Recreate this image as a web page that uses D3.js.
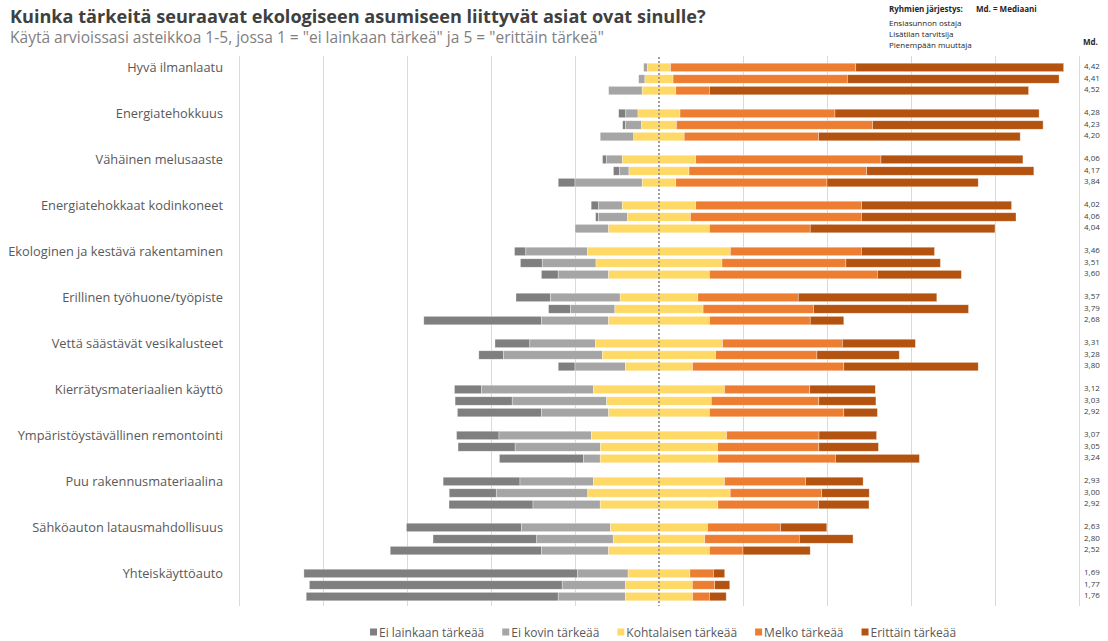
<!DOCTYPE html>
<html>
<head>
<meta charset="utf-8">
<script src="https://cdn.jsdelivr.net/npm/d3@7"></script>
<style>
  body { margin: 0; background: #fff; }
  svg { display: block; font-family: "Open Sans", "Noto Sans", sans-serif; }
</style>
</head>
<body>
<svg id="chart" width="1108" height="641"></svg>
<script>
// Survey items (top to bottom)
const categories = [
  "Hyvä ilmanlaatu",
  "Energiatehokkuus",
  "Vähäinen melusaaste",
  "Energiatehokkaat kodinkoneet",
  "Ekologinen ja kestävä rakentaminen",
  "Erillinen työhuone/työpiste",
  "Vettä säästävät vesikalusteet",
  "Kierrätysmateriaalien käyttö",
  "Ympäristöystävällinen remontointi",
  "Puu rakennusmateriaalina",
  "Sähköauton latausmahdollisuus",
  "Yhteiskäyttöauto"
];

// Respondent groups, drawn in this order inside each item
const groups = ["Ensiasunnon ostaja", "Lisätilan tarvitsija", "Pienempään muuttaja"];

// Answer scale 1–5
const levels = ["Ei lainkaan tärkeää", "Ei kovin tärkeää", "Kohtalaisen tärkeää", "Melko tärkeää", "Erittäin tärkeää"];

// Share of answers (%) per item, one triplet per item = [ostaja, tarvitsija, muuttaja]
const eiLainkaan = [
  [0, 0, 0], [1.7, 0.7, 0], [1.0, 1.4, 4], [1.8, 0.7, 0], [2.7, 5.2, 4], [8.2, 5.2, 28],
  [8.3, 5.9, 4], [6.4, 13.6, 20], [10.1, 13.6, 20], [18.3, 11.2, 20], [27.4, 24.7, 36], [65.2, 60.2, 60]
];
const eiKovin = [
  [0.9, 1.5, 8], [2.9, 3.8, 8], [3.7, 2.3, 16], [5.6, 6.9, 8], [14.7, 12.8, 12], [16.6, 10.6, 16],
  [15.6, 23.5, 12], [26.7, 22.5, 16], [22.0, 20.3, 4], [17.5, 21.8, 16], [21.2, 18.2, 16], [12.0, 15.1, 16]
];
const kohtalaisen = [
  [5.5, 6.7, 8], [10.0, 8.3, 12], [17.5, 14.3, 8], [17.5, 15.0, 24], [34.0, 30.0, 24], [18.5, 21.0, 24],
  [30.3, 27.0, 16], [31.2, 24.9, 24], [32.2, 27.9, 28], [31.2, 33.9, 28], [23.1, 21.8, 24], [14.7, 15.9, 16]
];
const melko = [
  [44.1, 41.5, 8], [36.9, 46.7, 32], [44.1, 42.3, 36], [39.5, 40.7, 24], [31.2, 29.5, 40], [23.9, 26.3, 24],
  [28.5, 24.1, 36], [20.3, 25.6, 32], [22.0, 24.1, 28], [19.3, 21.8, 24], [17.4, 22.5, 8], [5.6, 5.3, 4]
];
const erittain = [
  [49.5, 50.4, 76], [48.6, 40.6, 48], [33.8, 39.8, 36], [35.7, 36.8, 44], [17.4, 22.5, 20], [33.0, 36.9, 8],
  [17.4, 19.6, 32], [15.6, 13.6, 8], [13.7, 14.2, 20], [13.7, 11.3, 12], [11.0, 12.8, 16], [2.7, 3.6, 4]
];

// Values printed in the "Md." column
const mdValues = [
  ["4,42", "4,41", "4,52"], ["4,28", "4,23", "4,20"], ["4,06", "4,17", "3,84"], ["4,02", "4,06", "4,04"],
  ["3,46", "3,51", "3,60"], ["3,57", "3,79", "2,68"], ["3,31", "3,28", "3,80"], ["3,12", "3,03", "2,92"],
  ["3,07", "3,05", "3,24"], ["2,93", "3,00", "2,92"], ["2,63", "2,80", "2,52"], ["1,69", "1,77", "1,76"]
];

const gridTicks = [-100, -80, -60, -40, -20, 20, 40, 60, 80, 100];

const series = [eiLainkaan, eiKovin, kohtalaisen, melko, erittain];
const colors = ["#7f7f7f", "#a5a5a5", "#ffd966", "#ed7d31", "#b4530f"];

const svg = d3.select("#chart");

const x = d3.scaleLinear().domain([-100, 100]).range([239, 1079]);
const yCat = d3.scaleBand().domain(categories).range([56, 608]);
const yGrp = d3.scaleBand().domain(groups).range([7.2, 38.8]).paddingInner(0.27);

function fitWidth(sel, target) {
  const w = sel.node().getComputedTextLength();
  const fs = parseFloat(sel.attr("font-size"));
  sel.attr("font-size", (fs * target / w).toFixed(2));
}

// Vertical gridlines
const grid = svg.append("g")
  .attr("transform", "translate(0,56)")
  .call(d3.axisTop(x).tickValues(gridTicks).tickSize(-550).tickFormat(""));
grid.select(".domain").remove();
grid.selectAll(".tick line").attr("stroke", "#d9d9d9").attr("stroke-width", 1);

// Diverging stacks: neutral answers are split around zero
const segments = [];
categories.forEach((c, ci) => {
  groups.forEach((g, gi) => {
    const vals = series.map(s => s[ci][gi]);
    let start = -(vals[0] + vals[1] + vals[2] / 2);
    vals.forEach((v, li) => {
      segments.push({ c, g, li, x0: start, x1: start + v });
      start += v;
    });
  });
});

svg.append("g").selectAll("rect")
  .data(segments.filter(d => d.x1 - d.x0 > 0))
  .join("rect")
  .attr("x", d => x(d.x0))
  .attr("width", d => x(d.x1) - x(d.x0))
  .attr("y", d => yCat(d.c) + yGrp(d.g))
  .attr("height", yGrp.bandwidth())
  .attr("fill", d => colors[d.li])
  .attr("stroke", "rgba(255,255,255,0.55)")
  .attr("stroke-width", 0.6);

// Zero line
svg.append("line")
  .attr("x1", x(0)).attr("x2", x(0))
  .attr("y1", 57).attr("y2", 606)
  .attr("stroke", "#a0a0a0")
  .attr("stroke-width", 2)
  .attr("stroke-dasharray", "2,2");

// Item labels, aligned with the first row of each item
const catLabels = svg.append("g").selectAll("text")
  .data(categories)
  .join("text")
  .attr("x", 223)
  .attr("y", d => yCat(d) + yGrp(groups[0]) + yGrp.bandwidth() / 2)
  .attr("dy", "0.35em")
  .attr("text-anchor", "end")
  .attr("font-size", 13)
  .attr("fill", "#595959")
  .text(d => d);
{
  const longest = catLabels.filter(d => d === "Ekologinen ja kestävä rakentaminen");
  const w = longest.node().getComputedTextLength();
  catLabels.attr("font-size", (13 * 215 / w).toFixed(2));
}

// Md. column
const mdG = svg.append("g").attr("font-size", 8).attr("fill", "#404040");
categories.forEach((c, ci) => {
  groups.forEach((g, gi) => {
    mdG.append("text")
      .attr("x", 1084)
      .attr("y", yCat(c) + yGrp(g) + yGrp.bandwidth() / 2)
      .attr("dy", "0.2em")
      .text(mdValues[ci][gi]);
  });
});
svg.append("text").attr("x", 1083).attr("y", 45)
  .attr("font-size", 8).attr("font-weight", 700).attr("fill", "#262626").text("Md.");

// Title and subtitle
const title = svg.append("text")
  .attr("x", 10).attr("y", 23)
  .attr("font-size", 17).attr("font-weight", 700).attr("fill", "#404040")
  .text("Kuinka tärkeitä seuraavat ekologiseen asumiseen liittyvät asiat ovat sinulle?");
fitWidth(title, 696);
const subtitle = svg.append("text")
  .attr("x", 10).attr("y", 43)
  .attr("font-size", 14.5).attr("fill", "#7f7f7f")
  .text("Käytä arvioissasi asteikkoa 1-5, jossa 1 = \"ei lainkaan tärkeä\" ja 5 = \"erittäin tärkeä\"");
fitWidth(subtitle, 594);

// Group order note
const note = svg.append("g").attr("font-size", 8).attr("fill", "#262626");
note.append("text").attr("x", 889).attr("y", 12).attr("font-weight", 700).text("Ryhmien järjestys:");
note.append("text").attr("x", 976).attr("y", 12).attr("font-weight", 700).text("Md. = Mediaani");
groups.forEach((g, i) => {
  note.append("text").attr("x", 889).attr("y", 26 + i * 11).text(g);
});

// Legend
const legend = svg.append("g").attr("font-size", 12).attr("fill", "#595959")
  .style("font-family", "\"Liberation Sans Narrow\", \"Open Sans\", sans-serif");
const items = legend.selectAll("g").data(levels).join("g");
items.append("rect").attr("width", 7).attr("height", 7).attr("y", 628.5)
  .attr("fill", (d, i) => colors[i]);
const lt = items.append("text").attr("x", 9).attr("y", 636.5).text(d => d);
const widths = lt.nodes().map(n => n.getComputedTextLength());
const k = Math.min(1, 480 / d3.sum(widths));
lt.attr("textLength", (d, i) => widths[i] * k).attr("lengthAdjust", "spacingAndGlyphs");
let lx = 370;
items.attr("transform", (d, i) => {
  const t = `translate(${lx},0)`;
  lx += 9 + widths[i] * k + 18;
  return t;
});
</script>
</body>
</html>
